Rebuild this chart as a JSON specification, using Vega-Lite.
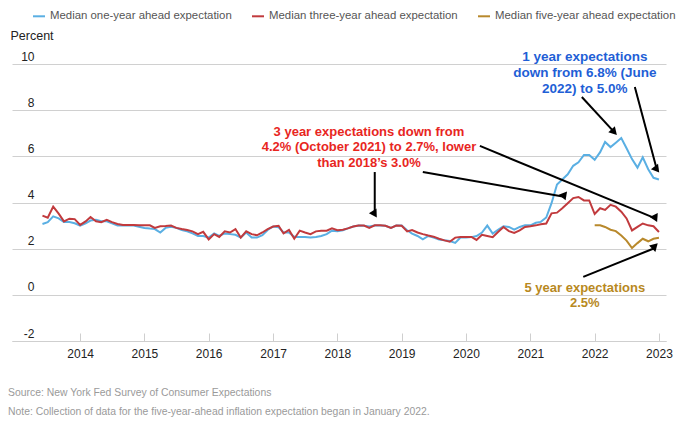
{
  "$schema": "https://vega.github.io/schema/vega-lite/v6.json",
  "width": 654,
  "height": 277,
  "autosize": "none",
  "padding": {"left": 12, "top": 64, "right": 14, "bottom": 88},
  "background": "white",
  "config": {"font": "Liberation Sans", "view": {"stroke": null}},
  "title": {
    "text": ["Source: New York Fed Survey of Consumer Expectations", "Note: Collection of data for the five-year-ahead inflation expectation began in January 2022."],
    "orient": "bottom", "anchor": "start", "frame": "group", "fontSize": 10.4, "fontWeight": "normal",
    "color": "#9a9a9a", "lineHeight": 19, "offset": 29, "dx": -4
  },
  "datasets": {
    "series": [
      {"date":"2013-06-01","one":3.07,"three":3.43},{"date":"2013-07-01","one":3.15,"three":3.34},{"date":"2013-08-01","one":3.4,"three":3.82},{"date":"2013-09-01","one":3.31,"three":3.52},{"date":"2013-10-01","one":3.15,"three":3.18},{"date":"2013-11-01","one":3.15,"three":3.3},{"date":"2013-12-01","one":3.1,"three":3.28},
      {"date":"2014-01-01","one":3.0,"three":3.03},{"date":"2014-02-01","one":3.1,"three":3.18},{"date":"2014-03-01","one":3.22,"three":3.37},{"date":"2014-04-01","one":3.25,"three":3.19},{"date":"2014-05-01","one":3.19,"three":3.15},{"date":"2014-06-01","one":3.19,"three":3.25},{"date":"2014-07-01","one":3.1,"three":3.15},{"date":"2014-08-01","one":3.0,"three":3.07},{"date":"2014-09-01","one":3.0,"three":3.03},{"date":"2014-10-01","one":3.0,"three":3.03},{"date":"2014-11-01","one":3.0,"three":3.03},{"date":"2014-12-01","one":2.95,"three":3.01},
      {"date":"2015-01-01","one":2.9,"three":3.01},{"date":"2015-02-01","one":2.87,"three":3.01},{"date":"2015-03-01","one":2.85,"three":2.9},{"date":"2015-04-01","one":2.7,"three":2.97},{"date":"2015-05-01","one":2.9,"three":2.98},{"date":"2015-06-01","one":2.95,"three":3.0},{"date":"2015-07-01","one":2.9,"three":2.9},{"date":"2015-08-01","one":2.81,"three":2.85},{"date":"2015-09-01","one":2.75,"three":2.81},{"date":"2015-10-01","one":2.66,"three":2.75},{"date":"2015-11-01","one":2.55,"three":2.63},{"date":"2015-12-01","one":2.55,"three":2.73},
      {"date":"2016-01-01","one":2.48,"three":2.4},{"date":"2016-02-01","one":2.66,"three":2.63},{"date":"2016-03-01","one":2.55,"three":2.51},{"date":"2016-04-01","one":2.66,"three":2.75},{"date":"2016-05-01","one":2.63,"three":2.7},{"date":"2016-06-01","one":2.6,"three":2.85},{"date":"2016-07-01","one":2.48,"three":2.48},{"date":"2016-08-01","one":2.7,"three":2.75},{"date":"2016-09-01","one":2.48,"three":2.63},{"date":"2016-10-01","one":2.48,"three":2.58},{"date":"2016-11-01","one":2.58,"three":2.7},{"date":"2016-12-01","one":2.81,"three":2.85},
      {"date":"2017-01-01","one":2.96,"three":2.96},{"date":"2017-02-01","one":2.93,"three":2.99},{"date":"2017-03-01","one":2.7,"three":2.66},{"date":"2017-04-01","one":2.7,"three":2.81},{"date":"2017-05-01","one":2.51,"three":2.43},{"date":"2017-06-01","one":2.51,"three":2.78},{"date":"2017-07-01","one":2.51,"three":2.7},{"date":"2017-08-01","one":2.48,"three":2.63},{"date":"2017-09-01","one":2.51,"three":2.75},{"date":"2017-10-01","one":2.55,"three":2.78},{"date":"2017-11-01","one":2.63,"three":2.78},{"date":"2017-12-01","one":2.78,"three":2.88},
      {"date":"2018-01-01","one":2.75,"three":2.8},{"date":"2018-02-01","one":2.8,"three":2.82},{"date":"2018-03-01","one":2.88,"three":2.88},{"date":"2018-04-01","one":2.96,"three":2.96},{"date":"2018-05-01","one":3.0,"three":3.0},{"date":"2018-06-01","one":2.99,"three":3.0},{"date":"2018-07-01","one":2.96,"three":2.9},{"date":"2018-08-01","one":3.0,"three":3.01},{"date":"2018-09-01","one":3.0,"three":3.01},{"date":"2018-10-01","one":2.99,"three":2.99},{"date":"2018-11-01","one":2.9,"three":2.9},{"date":"2018-12-01","one":3.0,"three":3.0},
      {"date":"2019-01-01","one":3.0,"three":2.99},{"date":"2019-02-01","one":2.8,"three":2.75},{"date":"2019-03-01","one":2.65,"three":2.81},{"date":"2019-04-01","one":2.55,"three":2.7},{"date":"2019-05-01","one":2.4,"three":2.63},{"date":"2019-06-01","one":2.55,"three":2.57},{"date":"2019-07-01","one":2.48,"three":2.52},{"date":"2019-08-01","one":2.4,"three":2.43},{"date":"2019-09-01","one":2.36,"three":2.36},{"date":"2019-10-01","one":2.33,"three":2.3},{"date":"2019-11-01","one":2.25,"three":2.48},{"date":"2019-12-01","one":2.48,"three":2.51},
      {"date":"2020-01-01","one":2.48,"three":2.51},{"date":"2020-02-01","one":2.5,"three":2.51},{"date":"2020-03-01","one":2.55,"three":2.38},{"date":"2020-04-01","one":2.7,"three":2.6},{"date":"2020-05-01","one":3.0,"three":2.55},{"date":"2020-06-01","one":2.65,"three":2.5},{"date":"2020-07-01","one":2.82,"three":2.72},{"date":"2020-08-01","one":2.97,"three":2.94},{"date":"2020-09-01","one":2.94,"three":2.76},{"date":"2020-10-01","one":2.82,"three":2.68},{"date":"2020-11-01","one":2.94,"three":2.79},{"date":"2020-12-01","one":3.01,"three":2.94},
      {"date":"2021-01-01","one":3.01,"three":2.97},{"date":"2021-02-01","one":3.12,"three":3.01},{"date":"2021-03-01","one":3.16,"three":3.06},{"date":"2021-04-01","one":3.35,"three":3.09},{"date":"2021-05-01","one":3.97,"three":3.53},{"date":"2021-06-01","one":4.78,"three":3.56},{"date":"2021-07-01","one":5.0,"three":3.75},{"date":"2021-08-01","one":5.22,"three":3.97},{"date":"2021-09-01","one":5.59,"three":4.19},{"date":"2021-10-01","one":5.74,"three":4.24},{"date":"2021-11-01","one":6.06,"three":4.09},{"date":"2021-12-01","one":6.06,"three":4.09},
      {"date":"2022-01-01","one":5.85,"three":3.5,"five":3.01},{"date":"2022-02-01","one":6.18,"three":3.75,"five":3.01},{"date":"2022-03-01","one":6.62,"three":3.68,"five":2.94},{"date":"2022-04-01","one":6.4,"three":3.9,"five":2.82},{"date":"2022-05-01","one":6.59,"three":3.82,"five":2.76},{"date":"2022-06-01","one":6.79,"three":3.6,"five":2.57},{"date":"2022-07-01","one":6.35,"three":3.31,"five":2.35},{"date":"2022-08-01","one":5.88,"three":2.79,"five":2.03},{"date":"2022-09-01","one":5.51,"three":2.94,"five":2.24},{"date":"2022-10-01","one":5.96,"three":3.09,"five":2.43},{"date":"2022-11-01","one":5.44,"three":3.01,"five":2.32},{"date":"2022-12-01","one":5.07,"three":2.97,"five":2.43},
      {"date":"2023-01-01","one":5.0,"three":2.72,"five":2.47}
    ],
    "notes": [
      {"group":"blue","date":"2021-11-06","value":10.32,"text":"1 year expectations"},
      {"group":"blue","date":"2021-11-06","value":9.6,"text":"down from 6.8% (June"},
      {"group":"blue","date":"2021-11-06","value":8.92,"text":"2022) to 5.0%"},
      {"group":"red","date":"2018-06-29","value":7.07,"text":"3 year expectations down from"},
      {"group":"red","date":"2018-06-29","value":6.39,"text":"4.2% (October 2021) to 2.7%, lower"},
      {"group":"red","date":"2018-06-29","value":5.72,"text":"than 2018’s 3.0%"},
      {"group":"gold","date":"2021-11-06","value":0.31,"text":"5 year expectations"},
      {"group":"gold","date":"2021-11-06","value":-0.37,"text":"2.5%"}
    ],
    "arrows": [
      {"id":"a1","date":"2021-10-20","value":8.57,"date2":"2022-04-22","value2":7.05},
      {"id":"a2","date":"2022-08-17","value":9.0,"date2":"2022-12-20","value2":5.43},
      {"id":"a3","date":"2018-08-01","value":5.32,"date2":"2018-08-01","value2":3.49},
      {"id":"a4","date":"2020-03-20","value":6.45,"date2":"2022-12-12","value2":3.31},
      {"id":"a5","date":"2019-05-01","value":5.32,"date2":"2021-07-12","value2":4.25},
      {"id":"a6","date":"2021-10-28","value":0.78,"date2":"2022-12-06","value2":2.02}
    ]
  },
  "layer": [
    {
      "data": {"name": "series"},
      "transform": [{"fold": ["one", "three", "five"], "as": ["series", "value"]}],
      "mark": {"type": "line", "strokeWidth": 2},
      "encoding": {
        "x": {
          "field": "date", "type": "temporal", "title": null,
          "scale": {"domain": ["2012-12-10", "2023-02-10"]},
          "axis": {
            "title": null, "format": "%Y", "grid": false,
            "values": [{"year":2014,"month":1,"date":1},{"year":2015,"month":1,"date":1},{"year":2016,"month":1,"date":1},{"year":2017,"month":1,"date":1},{"year":2018,"month":1,"date":1},{"year":2019,"month":1,"date":1},{"year":2020,"month":1,"date":1},{"year":2021,"month":1,"date":1},{"year":2022,"month":1,"date":1},{"year":2023,"month":1,"date":1}],
            "domainColor": "#cfcfcf", "tickColor": "#cfcfcf", "tickSize": -8, "labelPadding": 15,
            "labelFontSize": 12, "labelColor": "#222", "labelFlush": false
          }
        },
        "y": {
          "field": "value", "type": "quantitative", "title": "Percent",
          "scale": {"domain": [-2, 10], "nice": false, "zero": false},
          "axis": {
            "title": "Percent", "titleAngle": 0, "titleAlign": "left", "titleBaseline": "middle",
            "titleX": -2, "titleY": -29, "titleFontWeight": "normal", "titleFontSize": 12.5, "titleColor": "#222",
            "grid": true, "gridColor": "#d0d0d0", "domain": false, "ticks": false, "tickSize": 0,
            "labelAlign": "right", "labelPadding": -22, "labelBaseline": "alphabetic", "labelOffset": -4,
            "labelFontSize": 12, "labelColor": "#222", "values": [-2, 0, 2, 4, 6, 8, 10],
            "labelExpr": "'' + datum.value"
          }
        },
        "color": {
          "field": "series", "type": "nominal",
          "scale": {"domain": ["one", "three", "five"], "range": ["#5aafe3", "#c13a3d", "#b8892c"]},
          "legend": {
            "orient": "none", "legendX": 20, "legendY": -55, "direction": "horizontal", "columns": 3,
            "title": null, "symbolType": "stroke", "symbolStrokeWidth": 2, "symbolSize": 144,
            "labelFontSize": 11.4, "labelColor": "#555", "labelOffset": 4, "columnPadding": 16, "padding": 0, "labelLimit": 400,
            "labelExpr": "datum.label == 'one' ? 'Median one-year ahead expectation' : datum.label == 'three' ? 'Median three-year ahead expectation' : 'Median five-year ahead expectation'"
          }
        }
      }
    },
    {
      "data": {"name": "arrows"},
      "mark": {"type": "rule", "color": "black", "strokeWidth": 2},
      "encoding": {
        "x": {"field": "date", "type": "temporal", "title": null},
        "y": {"field": "value", "type": "quantitative", "title": "Percent"},
        "x2": {"field": "date2"},
        "y2": {"field": "value2"}
      }
    },
    {
      "data": {"name": "arrows"},
      "mark": {"type": "point", "shape": "triangle-up", "filled": true, "color": "black", "size": 80, "opacity": 1},
      "encoding": {
        "x": {"field": "date2", "type": "temporal", "title": null},
        "y": {"field": "value2", "type": "quantitative", "title": "Percent"},
        "angle": {"field": "id", "type": "nominal", "scale": {"domain": ["a1","a2","a3","a4","a5","a6"], "range": [137, 165, 180, 112, 100, 68]}, "legend": null}
      }
    },
    {
      "data": {"name": "notes"},
      "transform": [{"filter": "datum.group == 'blue'"}],
      "mark": {"type": "text", "color": "#1f5fd6", "fontSize": 13.5, "fontWeight": "bold", "align": "center", "baseline": "middle"},
      "encoding": {
        "x": {"field": "date", "type": "temporal", "title": null},
        "y": {"field": "value", "type": "quantitative", "title": "Percent"},
        "text": {"field": "text"}
      }
    },
    {
      "data": {"name": "notes"},
      "transform": [{"filter": "datum.group == 'red'"}],
      "mark": {"type": "text", "color": "#e8261e", "fontSize": 13, "fontWeight": "bold", "align": "center", "baseline": "middle"},
      "encoding": {
        "x": {"field": "date", "type": "temporal", "title": null},
        "y": {"field": "value", "type": "quantitative", "title": "Percent"},
        "text": {"field": "text"}
      }
    },
    {
      "data": {"name": "notes"},
      "transform": [{"filter": "datum.group == 'gold'"}],
      "mark": {"type": "text", "color": "#b8891e", "fontSize": 13, "fontWeight": "bold", "align": "center", "baseline": "middle"},
      "encoding": {
        "x": {"field": "date", "type": "temporal", "title": null},
        "y": {"field": "value", "type": "quantitative", "title": "Percent"},
        "text": {"field": "text"}
      }
    }
  ]
}
